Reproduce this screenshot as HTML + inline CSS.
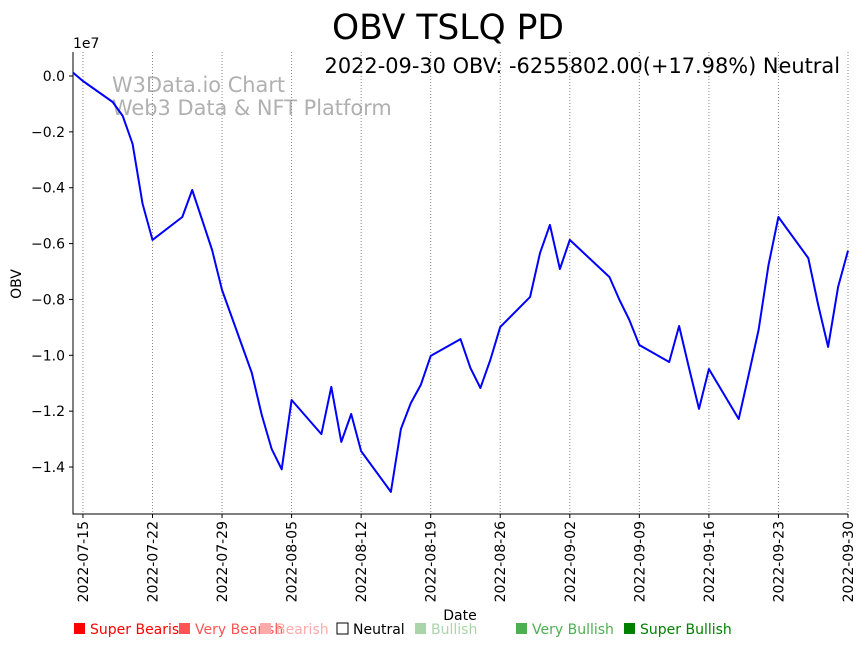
<!DOCTYPE html>
<html><head><meta charset="utf-8"><style>
body{margin:0;background:#fff;}
svg{display:block;font-family:"DejaVu Sans","Liberation Sans",sans-serif;}
</style></head><body>
<svg id="chart" width="864" height="646" viewBox="0 0 864 646" xmlns="http://www.w3.org/2000/svg">
<text x="448" y="39" font-size="34.5" text-anchor="middle">OBV TSLQ PD</text>
<text x="840" y="73" font-size="20.9" text-anchor="end">2022-09-30 OBV: -6255802.00(+17.98%) Neutral</text>
<text x="112" y="92" font-size="20.9" fill="#b0b0b0">W3Data.io Chart</text>
<text x="112" y="115" font-size="20.9" fill="#b0b0b0">Web3 Data &amp; NFT Platform</text>
<text x="73" y="48" font-size="14">1e7</text>
<text x="21" y="284" font-size="14" text-anchor="middle" transform="rotate(-90 21 284)">OBV</text>
<text x="460" y="620" font-size="14" text-anchor="middle">Date</text>
<g id="grid"></g><g id="axes"></g><g id="series"></g><g id="legend"></g>
</svg>
<script>
const dates=["2022-07-14","2022-07-15","2022-07-18","2022-07-19","2022-07-20","2022-07-21","2022-07-22","2022-07-25","2022-07-26","2022-07-27","2022-07-28","2022-07-29","2022-08-01","2022-08-02","2022-08-03","2022-08-04","2022-08-05","2022-08-08","2022-08-09","2022-08-10","2022-08-11","2022-08-12","2022-08-15","2022-08-16","2022-08-17","2022-08-18","2022-08-19","2022-08-22","2022-08-23","2022-08-24","2022-08-25","2022-08-26","2022-08-29","2022-08-30","2022-08-31","2022-09-01","2022-09-02","2022-09-06","2022-09-07","2022-09-08","2022-09-09","2022-09-12","2022-09-13","2022-09-14","2022-09-15","2022-09-16","2022-09-19","2022-09-20","2022-09-21","2022-09-22","2022-09-23","2022-09-26","2022-09-27","2022-09-28","2022-09-29","2022-09-30"];
const obvValues=[0.012,-0.018,-0.093,-0.143,-0.243,-0.458,-0.587,-0.505,-0.408,-0.516,-0.623,-0.766,-1.063,-1.214,-1.336,-1.408,-1.160,-1.282,-1.113,-1.310,-1.210,-1.343,-1.489,-1.264,-1.171,-1.106,-1.002,-0.942,-1.045,-1.117,-1.017,-0.899,-0.791,-0.634,-0.533,-0.691,-0.587,-0.720,-0.802,-0.874,-0.963,-1.024,-0.895,-1.045,-1.192,-1.049,-1.228,-1.071,-0.909,-0.677,-0.505,-0.652,-0.820,-0.970,-0.755,-0.6256];
const xTickLabels=["2022-07-15","2022-07-22","2022-07-29","2022-08-05","2022-08-12","2022-08-19","2022-08-26","2022-09-02","2022-09-09","2022-09-16","2022-09-23","2022-09-30"];
const yTickValues=[0,-0.2,-0.4,-0.6,-0.8,-1.0,-1.2,-1.4];
const legendLabels=["Super Bearish","Very Bearish","Bearish","Neutral","Bullish","Very Bullish","Super Bullish"];
const legendColors=["#ff0000","#ff5555","#ffaaaa","#ffffff","#aad4aa","#4caf50","#008000"];

const NS="http://www.w3.org/2000/svg";
const L=73,R=848,T=52,B=514;
const d0=Date.parse("2022-07-14"),d1=Date.parse("2022-09-30");
function xs(d){return L+(Date.parse(d)-d0)/(d1-d0)*(R-L);}
function ys(v){return 76-v*279.3;}
function mk(tag,attrs,parent){const e=document.createElementNS(NS,tag);for(const k in attrs)e.setAttribute(k,attrs[k]);parent.appendChild(e);return e;}
const grid=document.getElementById('grid'),axes=document.getElementById('axes'),series=document.getElementById('series'),legend=document.getElementById('legend');

xTickLabels.forEach(lab=>{
  const x=xs(lab);
  const g=mk('line',{x1:x,x2:x,y1:T,y2:B,stroke:'#888','stroke-width':1,'stroke-dasharray':'1,2'},grid);
  
  
  const t=mk('line',{x1:x,x2:x,y1:B,y2:B+4,stroke:'#000'},axes);
  
  
  const tx=mk('text',{x:0,y:0,'font-size':14,'text-anchor':'end',transform:`translate(${x+5},${B+7}) rotate(-90)`},axes);
  tx.textContent=lab;
  
  
});
yTickValues.forEach(v=>{
  const y=ys(v);
  const t=mk('line',{x1:L-4,x2:L,y1:y,y2:y,stroke:'#000'},axes);
  
  
  const tx=mk('text',{x:L-8,y:y+5,'font-size':14,'text-anchor':'end'},axes);
  tx.textContent=v.toFixed(1).replace('-','\u2212');
  
  
});
const ax=mk('path',{d:`M${L},${T}V${B}H${R}`,fill:'none',stroke:'#000','stroke-width':1},axes);



const pts=dates.map((d,i)=>xs(d).toFixed(1)+','+ys(obvValues[i]).toFixed(1)).join(' ');
const line=mk('polyline',{points:pts,fill:'none',stroke:'#0000ff','stroke-width':2,'stroke-linejoin':'round'},series);



const lx=[73,178,259,336,414,515,623];
legendLabels.forEach((lab,i)=>{
  const g=mk('g',{},legend);
  
  
  mk('rect',{x:lx[i]+1,y:623,width:11,height:11,fill:legendColors[i],stroke:i==3?'#000':'none','stroke-width':1},g);
  const t=mk('text',{x:lx[i]+17,y:634,'font-size':14,fill:i==3?'#000':legendColors[i]},g);
  t.textContent=lab;
});
</script>
</body></html>
